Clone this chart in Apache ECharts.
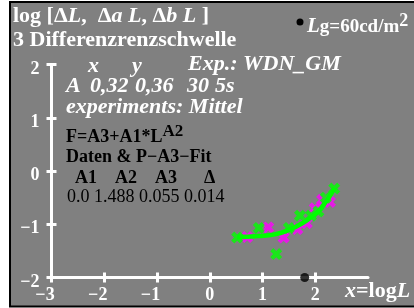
<!DOCTYPE html>
<html><head><meta charset="utf-8">
<script src="https://cdn.jsdelivr.net/npm/echarts@6/dist/echarts.min.js"></script>
<style>html,body{margin:0;padding:0;background:#fff}#c{width:414px;height:308px}</style>
</head><body><div id="c"></div>
<script>
const xTicks = [-3, -2, -1, 0, 1, 2];
const yTicks = [-2, -1, 0, 1, 2];
const greenPts = [[0.52,-1.25],[0.93,-1.07],[1.26,-1.56],[1.50,-1.07],[1.71,-0.84],[1.92,-0.84],[2.06,-0.76],[2.20,-0.50],[2.36,-0.33]];
const magentaPts = [[0.71,-1.24],[1.11,-1.06],[1.40,-1.25],[1.66,-1.09],[1.84,-0.98],[1.99,-0.70],[2.13,-0.54],[2.28,-0.58]];
const fitCurve = [[0.52,-1.24],[0.92,-1.22],[1.23,-1.19],[1.49,-1.11],[1.74,-0.99],[1.93,-0.86],[2.12,-0.69],[2.37,-0.32]];
const adaptPoint = [[1.8,-2]];
const paramNames = ['A1','A2','A3','Δ'];
const paramValues = ['0.0','1.488','0.055','0.014'];

const FF = '"Liberation Serif", "Times New Roman", serif';
const W = '#ffffff';
const fnt = (w, s, it) => (it ? 'italic ' : '') + w + ' ' + s + 'px ' + FF;
const minus = v => v < 0 ? '\u2212' + Math.abs(v) : String(v);
const cross = 'path://M0,2.6 L2.6,0 L5,2.4 L7.4,0 L10,2.6 L7.6,5 L10,7.4 L7.4,10 L5,7.6 L2.6,10 L0,7.4 L2.4,5 Z';

const chart = echarts.init(document.getElementById('c'), null, {renderer: 'canvas'});
const lbl = {fontFamily: FF, fontWeight: 'bold', fontSize: 18, color: W};

function txt(x, y, text, font, fill, extra) {
  return {type: 'text', z: 50, style: Object.assign({x, y, text, font, fill: fill || W, verticalAlign: 'middle', align: 'left'}, extra || {})};
}

const graphics = [
  {type: 'rect', z: -100, shape: {x: 10, y: 2, width: 420, height: 304.5}, style: {fill: '#808080', stroke: '#000', lineWidth: 2}},
  txt(13, 16, '', fnt('bold', 22), W, {
    text: '{b|log [\u0394}{i|L}{b|,  \u0394}{i|a}{b| }{i|L}{b|, \u0394}{i|b}{b| }{i|L}{b| ]}',
    rich: {b: {font: fnt('bold', 22), fill: W}, i: {font: fnt('bold', 22, true), fill: W}}
  }),
  txt(13, 40, '3 Differenzrenzschwelle', fnt('bold', 22)),
  {type: 'circle', z: 50, shape: {cx: 300, cy: 22, r: 3.5}, style: {fill: '#000'}},
  txt(307, 27, '', fnt('bold', 20), W, {
    text: '{i|L}{b|g=60cd/m}{s|2}',
    rich: {i: {font: fnt('bold', 21, true), fill: W}, b: {font: fnt('bold', 19), fill: W}, s: {font: fnt('bold', 18), fill: W, padding: [0, 0, 11, 0]}}
  }),
  txt(88, 66, 'x', fnt('bold', 22, true)),
  txt(132, 66, 'y', fnt('bold', 22, true)),
  txt(188, 64, 'Exp.: WDN_GM', fnt('bold', 22, true)),
  txt(66, 86, 'A', fnt('bold', 22, true)),
  txt(90, 86, '0,32', fnt('bold', 22, true)),
  txt(135, 86, '0,36', fnt('bold', 22, true)),
  txt(187, 86, '30', fnt('bold', 22, true)),
  txt(215, 86, '5s', fnt('bold', 22, true)),
  txt(66, 107, 'experiments: Mittel', fnt('bold', 22, true)),
  txt(66, 137, '', fnt('bold', 18), '#000', {
    text: '{b|F=A3+A1*L}{s|A2}',
    rich: {b: {font: fnt('bold', 18), fill: '#000'}, s: {font: fnt('bold', 17), fill: '#000', padding: [0, 0, 10, 0]}}
  }),
  txt(66, 157, 'Daten & P\u2212A3\u2212Fit', fnt('bold', 18), '#000'),
  txt(75, 178, paramNames[0], fnt('bold', 18), '#000'),
  txt(115, 178, paramNames[1], fnt('bold', 18), '#000'),
  txt(155, 178, paramNames[2], fnt('bold', 18), '#000'),
  txt(204, 178, paramNames[3], fnt('bold', 18), '#000'),
  txt(67, 197, paramValues.join(' '), fnt('normal', 18), '#000'),
  txt(345, 291, '', fnt('bold', 22), W, {
    text: '{i|x}{b|=log}{i|L}',
    rich: {i: {font: fnt('bold', 22, true), fill: W}, b: {font: fnt('bold', 22), fill: W}}
  })
];

const axLine = {show: true, onZero: false, lineStyle: {color: W, width: 3}};
const xLabelRich = {n: Object.assign({}, lbl, {padding: [0, 13, 0, 0]}), p: Object.assign({}, lbl)};
const yLabelRich = {a: Object.assign({}, lbl, {padding: [9, 0, 0, 0]})};

chart.setOption({
  animation: false,
  backgroundColor: 'transparent',
  grid: {left: 51.5, right: 46, top: 64.5, bottom: 30.5, containLabel: false},
  xAxis: [
    {type: 'value', min: -3, max: 3, position: 'bottom', splitLine: {show: false},
     axisLine: axLine,
     axisTick: {show: true, length: 5, lineStyle: {color: W, width: 3}, customValues: xTicks},
     axisLabel: {show: true, margin: 9, customValues: xTicks, formatter: v => v < 0 ? '{n|' + minus(v) + '}' : '{p|' + v + '}', rich: xLabelRich}},
    {type: 'value', min: -3, max: 3, position: 'bottom', splitLine: {show: false},
     axisLine: {show: false, onZero: false},
     axisTick: {show: true, inside: true, length: 5, lineStyle: {color: W, width: 3}, customValues: xTicks},
     axisLabel: {show: false}}
  ],
  yAxis: [
    {type: 'value', min: -2, max: 2, position: 'left', splitLine: {show: false},
     axisLine: axLine,
     axisTick: {show: true, length: 5, lineStyle: {color: W, width: 3}, customValues: yTicks},
     axisLabel: {show: true, margin: 12, customValues: yTicks, formatter: v => '{a|' + minus(v) + '}', rich: yLabelRich}},
    {type: 'value', min: -2, max: 2, position: 'left', splitLine: {show: false},
     axisLine: {show: false, onZero: false},
     axisTick: {show: true, inside: true, length: 5, lineStyle: {color: W, width: 3}, customValues: yTicks},
     axisLabel: {show: false}}
  ],
  series: [
    {type: 'scatter', data: magentaPts, symbol: cross, symbolSize: 12, itemStyle: {color: '#ff00ff'}, z: 3},
    {type: 'line', data: fitCurve, smooth: true, symbol: 'none', lineStyle: {color: '#00ff00', width: 4.5}, z: 4},
    {type: 'scatter', data: greenPts, symbol: cross, symbolSize: 12, itemStyle: {color: '#00ff00'}, z: 5},
    {type: 'scatter', data: adaptPoint, symbol: 'circle', symbolSize: 9, itemStyle: {color: '#000'}, z: 6}
  ],
  graphic: graphics
});
</script></body></html>
